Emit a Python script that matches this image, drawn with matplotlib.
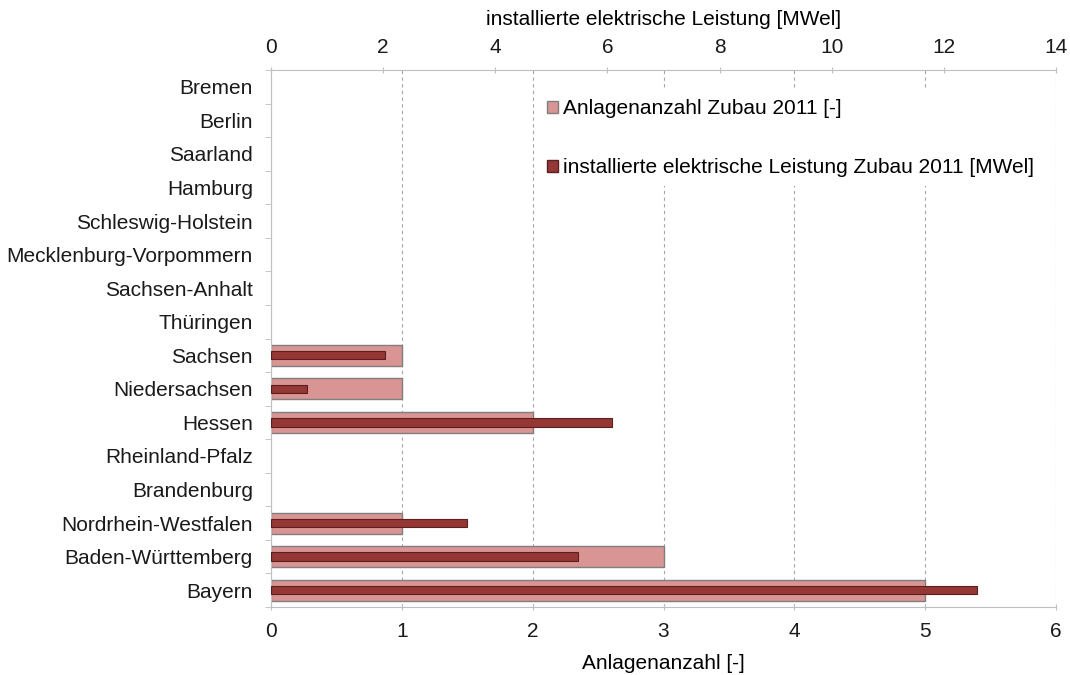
#!/usr/bin/env python3
"""
Zubau 2011 nach Bundesland: Anlagenanzahl und installierte Leistung.
"""

import matplotlib.pyplot as plt
import numpy as np
from matplotlib.patches import Patch

plt.rcParams['font.family'] = ['Liberation Sans', 'DejaVu Sans']

# bottom of the chart first
laender = ["Bayern", "Baden-Württemberg", "Nordrhein-Westfalen", "Brandenburg",
           "Rheinland-Pfalz", "Hessen", "Niedersachsen", "Sachsen", "Thüringen",
           "Sachsen-Anhalt", "Mecklenburg-Vorpommern", "Schleswig-Holstein",
           "Hamburg", "Saarland", "Berlin", "Bremen"]
anzahl = [5, 3, 1, 0, 0, 2, 1, 1, 0, 0, 0, 0, 0, 0, 0, 0]
leistung = [12.6, 5.47, 3.5, 0, 0, 6.08, 0.65, 2.03, 0, 0, 0, 0, 0, 0, 0, 0]

light = "#d99594"
dark = "#953735"
grey = "#bfbfbf"
fs = 15


def main():
    fig = plt.figure(figsize=(10.7, 6.75), dpi=100)
    ax = fig.add_axes([0.2533, 0.1007, 0.7336, 0.7956])
    y = np.arange(len(laender))
    a = np.array(anzahl, dtype=float)
    p = np.array(leistung)

    # leave out empty rows, otherwise a hairline shows at zero
    ax.barh(y[a > 0], a[a > 0], height=0.62, color=light, edgecolor="#7f7f7f",
            linewidth=1, zorder=2)
    ax.set_xlim(0, 6)
    ax.set_ylim(-0.42, 15.5)
    ax.set_yticks(y)
    ax.set_yticklabels(laender)
    ax.set_yticks(np.arange(-0.5, 15.6, 1), minor=True)
    ax.tick_params(axis="y", which="major", length=0, labelsize=fs, pad=13,
                   labelcolor="#1a1a1a")
    ax.tick_params(axis="y", which="minor", length=4, color=grey, direction="out")
    ax.tick_params(axis="x", labelsize=fs, length=5, direction="inout", color=grey,
                   pad=8, labelcolor="#1a1a1a")
    ax.set_xlabel("Anlagenanzahl [-]", fontsize=fs, labelpad=10)
    ax.xaxis.grid(True, linestyle=(0, (3, 3)), color="#a6a6a6", linewidth=0.8, zorder=0)
    ax.set_axisbelow(True)
    for s in ["bottom", "left"]:
        ax.spines[s].set_color(grey)
    ax.spines["right"].set_visible(False)
    ax.spines["top"].set_visible(False)

    ax2 = ax.twiny()
    ax2.barh(y[p > 0], p[p > 0], height=0.25, color=dark, edgecolor="#5a1f1e",
             linewidth=0.8, zorder=3)
    ax2.set_xlim(0, 14)
    ax2.set_xticks(np.arange(0, 15, 2))
    ax2.tick_params(axis="x", labelsize=fs, length=5, direction="inout", color=grey,
                    pad=7, labelcolor="#1a1a1a")
    ax2.set_xlabel("installierte elektrische Leistung [MWel]", fontsize=fs, labelpad=9)
    ax2.spines["top"].set_color(grey)
    for s in ["bottom", "left", "right"]:
        ax2.spines[s].set_visible(False)

    handles = [Patch(facecolor=light, edgecolor="#7f7f7f"),
               Patch(facecolor=dark, edgecolor="#5a1f1e")]
    leg = ax2.legend(handles, ["Anlagenanzahl Zubau 2011 [-]",
                               "installierte elektrische Leistung Zubau 2011 [MWel]"],
                     loc="upper right", bbox_to_anchor=(0.997, 0.982), fontsize=fs,
                     handlelength=0.5, handleheight=0.5, handletextpad=0.25,
                     labelspacing=1.9, borderpad=0.45, fancybox=False, framealpha=1)
    leg.get_frame().set_edgecolor("none")

    fig.savefig("out.png", dpi=100)


if __name__ == '__main__':
    main()
